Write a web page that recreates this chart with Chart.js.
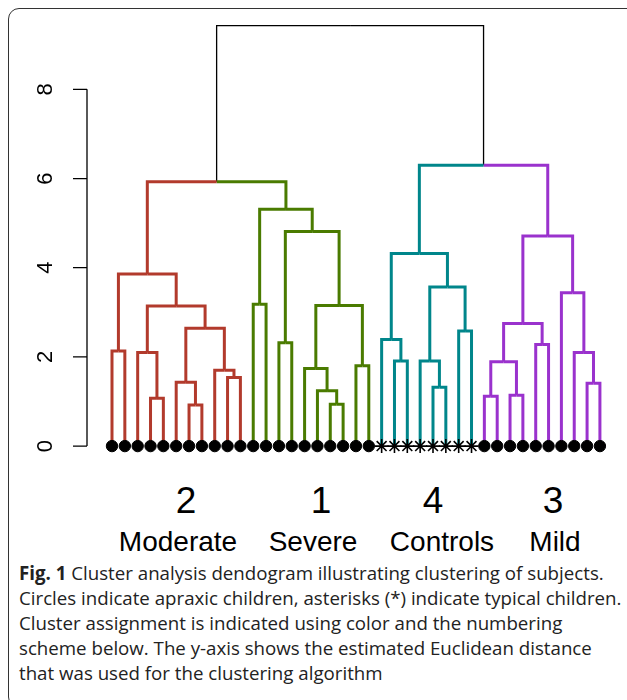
<!DOCTYPE html>
<html>
<head>
<meta charset="utf-8">
<script src="https://cdn.jsdelivr.net/npm/chart.js@4.4.1/dist/chart.umd.min.js"></script>
<style>
  html, body { margin: 0; padding: 0; background: #fff; overflow: hidden; }
  body { width: 627px; height: 700px; position: relative; }
  #frame { position: absolute; left: 8px; top: 8px; width: 660px; height: 700px;
           border: 1.5px solid #333; border-radius: 11px; box-sizing: border-box; }
  #wrap { position: absolute; left: 0; top: 0; width: 627px; height: 470px; }
  .lab { position: absolute; width: 200px; text-align: center; color: #000;
         font-family: "Liberation Sans", Arial, sans-serif; line-height: 1; white-space: nowrap; }
  .num { font-size: 37px; top: 482px; }
  .name { font-size: 28px; top: 528px; }
  #caption { position: absolute; left: 19px; top: 560px; width: 610px;
             font-family: "Open Sans", sans-serif; font-size: 18.7px; line-height: 25px; color: #222; white-space: nowrap; }
</style>
</head>
<body>
<div id="frame"></div>
<div id="wrap"><canvas id="dendro"></canvas></div>
<div class="lab num" style="left:86px">2</div>
<div class="lab num" style="left:221px">1</div>
<div class="lab num" style="left:333px">4</div>
<div class="lab num" style="left:453px">3</div>
<div class="lab name" style="left:78px">Moderate</div>
<div class="lab name" style="left:213px">Severe</div>
<div class="lab name" style="left:342px">Controls</div>
<div class="lab name" style="left:455px">Mild</div>
<div id="caption"><b>Fig. 1</b> Cluster analysis dendogram illustrating clustering of subjects.<br>Circles indicate apraxic children, asterisks (*) indicate typical children.<br>Cluster assignment is indicated using color and the numbering<br>scheme below. The y-axis shows the estimated Euclidean distance<br>that was used for the clustering algorithm</div>
<script>
// leaf cluster numbers, left to right (1-based leaf ids follow this order)
const leafCluster = [2,2,2,2,2,2,2,2,2,2,2, 1,1,1,1,1,1,1,1,1,1, 4,4,4,4,4,4,4,4, 3,3,3,3,3,3,3,3,3,3];
// apraxic = circle, typical = asterisk
const leafShape = leafCluster.map(c => c === 4 ? 'star' : 'circle');
const clusterColors = { 1: '#4a7b00', 2: '#b23a2c', 3: '#9a32cd', 4: '#00868b' };

// hclust-style merges: negative = leaf, positive = earlier merge
const mergeA = [-1,-4,-3,-7,-6,-10,-9,5,3,1, -12,-14,-18,-17,-16,-20,15,12,11,10, -23,-22,-26,-25,-28,24,22, -30,-32,28,-34,30,-38,-37,-36,32,27,20];
const mergeB = [-2,-5,2,-8,4,-11,6,7,8,9, -13,-15,-19,13,14,-21,16,17,18,19, -24,21,-27,23,-29,25,26, -31,-33,29,-35,31,-39,33,34,35,36,37];
const mergeHeight = [2.13,1.07,2.10,0.92,1.43,1.54,1.70,2.64,3.14,3.86, 3.18,2.32,0.94,1.24,1.74,1.80,3.15,4.81,5.31,5.93, 1.91,2.39,1.32,1.91,2.58,3.57,4.32, 1.12,1.14,1.89,2.28,2.75,1.41,2.10,3.44,4.71,6.30,9.43];

const yTicks = [0, 2, 4, 6, 8];

// node x (leaf index units), height and cluster, derived from merges
function nodeInfo(id, cache) {
  if (id < 0) {
    const i = -id - 1;
    return { x: i, h: 0, cl: leafCluster[i] };
  }
  if (cache[id]) return cache[id];
  const a = nodeInfo(mergeA[id - 1], cache), b = nodeInfo(mergeB[id - 1], cache);
  const info = { x: (a.x + b.x) / 2, h: mergeHeight[id - 1], cl: a.cl === b.cl ? a.cl : null };
  cache[id] = info;
  return info;
}
const cache = {};
const datasets = [];

datasets.push({
  type: 'scatter',
  data: leafCluster.map((c, i) => ({ x: i, y: 0 })),
  pointStyle: leafShape,
  pointRadius: leafShape.map(s => s === 'star' ? 7 : 5.7),
  pointBorderWidth: leafShape.map(s => s === 'star' ? 1.6 : 1),
  pointBackgroundColor: '#000',
  pointBorderColor: '#000',
  order: 0
});

mergeA.forEach((a, k) => {
  const p = nodeInfo(k + 1, cache);
  [a, mergeB[k]].forEach(cid => {
    const c = nodeInfo(cid, cache);
    datasets.push({
      type: 'scatter',
      showLine: true,
      data: [{ x: p.x, y: p.h }, { x: c.x, y: p.h }, { x: c.x, y: c.h }],
      borderColor: c.cl ? clusterColors[c.cl] : '#000',
      borderWidth: c.cl ? 3 : 1.3,
      borderJoinStyle: 'miter',
      pointRadius: 0,
      fill: false,
      order: 1
    });
  });
});

// R-style left axis with rotated labels
const rAxis = {
  id: 'rAxis',
  afterDraw(chart) {
    const y = chart.scales.y, ctx = chart.ctx;
    const x0 = chart.chartArea.left;
    ctx.save();
    ctx.strokeStyle = '#000';
    ctx.lineWidth = 1.3;
    ctx.beginPath();
    ctx.moveTo(x0, y.getPixelForValue(yTicks[0]));
    ctx.lineTo(x0, y.getPixelForValue(yTicks[yTicks.length - 1]));
    yTicks.forEach(t => {
      const py = y.getPixelForValue(t);
      ctx.moveTo(x0, py);
      ctx.lineTo(x0 - 14, py);
    });
    ctx.stroke();
    ctx.fillStyle = '#000';
    ctx.font = '22px "Liberation Sans", Arial, sans-serif';
    ctx.textAlign = 'center';
    ctx.textBaseline = 'alphabetic';
    yTicks.forEach(t => {
      ctx.save();
      ctx.translate(x0 - 35, y.getPixelForValue(t));
      ctx.rotate(-Math.PI / 2);
      ctx.fillText(String(t), 0, 0);
      ctx.restore();
    });
    ctx.restore();
  }
};

new Chart(document.getElementById('dendro').getContext('2d'), {
  type: 'scatter',
  data: { datasets },
  options: {
    responsive: true,
    maintainAspectRatio: false,
    animation: false,
    events: [],
    clip: false,
    layout: { padding: { left: 87, right: 13, top: 18, bottom: 15 } },
    scales: {
      x: { type: 'linear', display: false, min: -1.947, max: 39.097 },
      y: { type: 'linear', display: false, min: -0.2, max: 9.6 }
    },
    plugins: { legend: { display: false }, tooltip: { enabled: false } }
  },
  plugins: [rAxis]
});
</script>
</body>
</html>
